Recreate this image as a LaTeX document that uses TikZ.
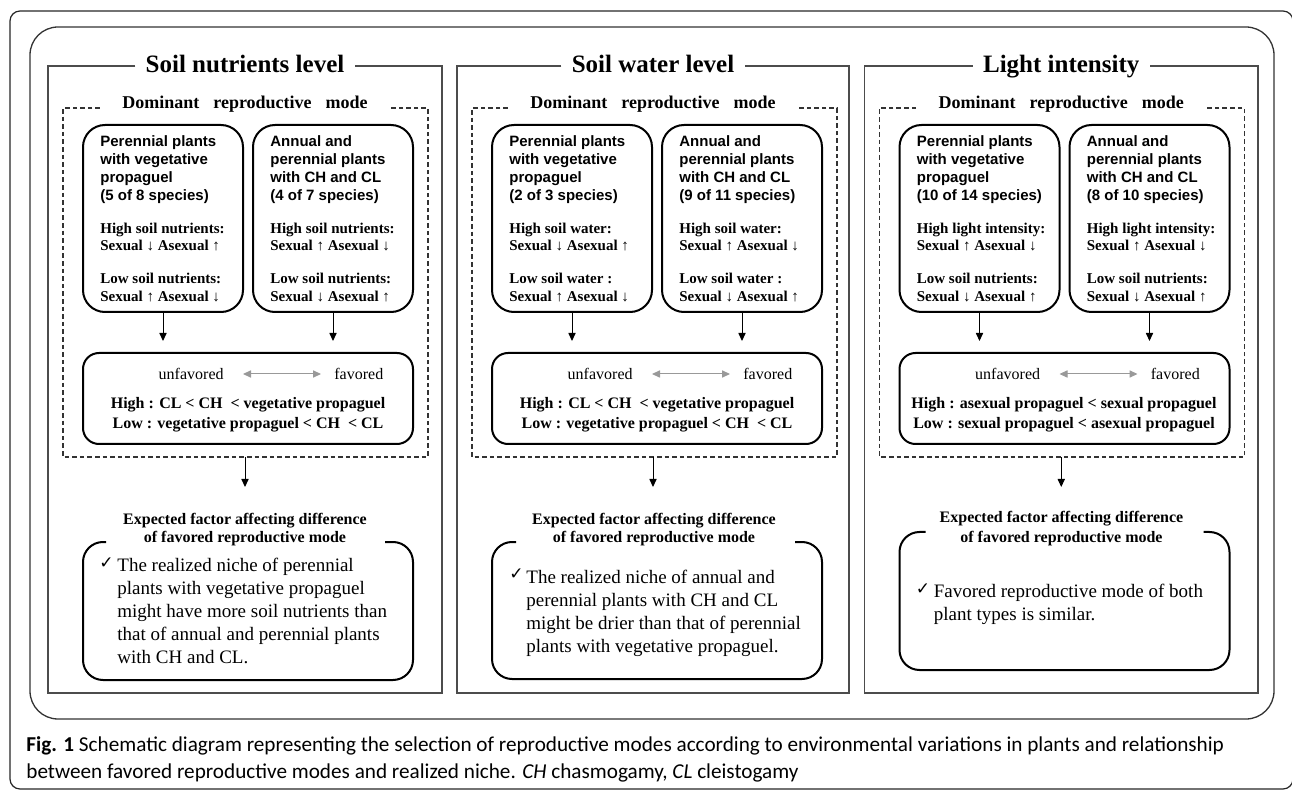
\documentclass[tikz,border=0pt]{standalone}
\usepackage{fontspec}
\setmainfont{Liberation Serif}
\newfontfamily\boxsans{Liberation Sans}
\newfontfamily\capfont{Carlito}
\newfontfamily\symfont{DejaVu Sans}
\usetikzlibrary{arrows.meta,calc}
\tikzset{
 frameline/.style={draw=black!70, line width=0.8pt},
 rb/.style={draw=black, line width=1pt},
 dashline/.style={draw=black!80, line width=0.6pt, dash pattern=on 2.3pt off 1.5pt},
 arr/.style={-{Triangle[length=4pt,width=3.6pt]}, line width=0.5pt, draw=black},
 garr/.style={{Triangle[length=4pt,width=3.6pt]}-{Triangle[length=4pt,width=3.6pt]}, line width=0.5pt, draw=black!40, fill=black!40},
 ttl/.style={font=\bfseries\fontsize{12.5pt}{14pt}\selectfont, inner xsep=5pt, inner ysep=0pt, anchor=base},
 dtl/.style={font=\bfseries\fontsize{9pt}{11pt}\selectfont, inner xsep=11pt, inner ysep=0pt, anchor=base},
 sline/.style={font=\boxsans\bfseries\fontsize{7.5pt}{9pt}\selectfont, inner sep=0pt, anchor=base west},
 bline/.style={font=\bfseries\fontsize{7.5pt}{9pt}\selectfont, inner sep=0pt, anchor=base west},
 mline/.style={font=\bfseries\fontsize{8pt}{10pt}\selectfont, inner sep=0pt, anchor=base},
 ufline/.style={font=\fontsize{8pt}{10pt}\selectfont, inner sep=0pt},
 eline/.style={font=\bfseries\fontsize{8pt}{10pt}\selectfont, inner sep=0pt, anchor=base},
 cline/.style={font=\fontsize{9.5pt}{11pt}\selectfont, inner sep=0pt, anchor=base west},
 chk/.style={font=\symfont\fontsize{8.5pt}{10pt}\selectfont, inner sep=0pt, anchor=base west},
 capline/.style={font=\capfont\fontsize{10.6pt}{12pt}\selectfont, inner sep=0pt, anchor=base west},
}
\newcommand\txtlines[6]{\foreach \mytext [count=\myi] in {#6}{\node[#5] (#1\myi) at (#2,{#3+(\myi-1)*#4}) {\mytext};}}
% common frame of a panel: #1 prefix, #2 width, #3 title
\newcommand\panelframe[3]{%
 \node[ttl] (#1t) at ({#2/2},73) {#3};
 \draw[frameline] (#1t.west |- 0,66) -- (0,66) -- (0,693) -- (#2,693) -- (#2,66) -- (#1t.east |- 0,66);
 \node[dtl] (#1d) at ({#2/2},109) {Dominant\hspace{7pt}reproductive\hspace{7pt}mode};
 \draw[dashline] (#1d.west |- 0,108) -- (15,108) -- (15,457) -- (380,457) -- (380,108) -- (#1d.east |- 0,108);
 \node[rb, rounded corners=11pt, minimum width=80pt, minimum height=93.5pt, inner sep=0pt] (#1a) at (115,218.5) {};
 \node[rb, rounded corners=11pt, minimum width=80pt, minimum height=93.5pt, inner sep=0pt] (#1b) at (285,218.5) {};
 \node[rb, rounded corners=8pt, minimum width=165pt, minimum height=45.5pt, inner sep=0pt] (#1m) at (200,398.5) {};
 \draw[arr, shorten >=5.5pt] (#1a.south) -- (#1a.south |- #1m.north);
 \draw[arr, shorten >=5.5pt] (#1b.south) -- (#1b.south |- #1m.north);
 \node[ufline, anchor=base east] (#1uf) at (176,380) {unfavored};
 \node[ufline, anchor=base west] (#1fv) at (286,380) {favored};
 \draw[garr] ($(#1uf.base east)+(19,-6)$) -- ($(#1fv.base west)+(-13,-6)$);
 \coordinate (#1db) at ({#2/2},457);
 \coordinate (#1de) at ({#2/2},487);
 \draw[arr] (#1db) -- (#1de);
}
\begin{document}
\begin{tikzpicture}[x=0.5pt,y=-0.5pt]
\useasboundingbox (0,0) rectangle (1292,791);
% outer frames
\draw[line width=0.6pt, draw=black!85, rounded corners=5pt] (10,11) rectangle (1293,789);
\draw[line width=0.65pt, draw=black!80, rounded corners=14pt] (30,27) rectangle (1274,719);

% ---------------- Panel 1 ----------------
\begin{scope}[xshift=24pt]
\panelframe{pa}{394}{Soil nutrients level}
\txtlines{paas}{52}{147}{18}{sline}{Perennial plants, with vegetative, propaguel, (5 of 8 species)}
\txtlines{pabs}{222}{147}{18}{sline}{Annual and, perennial plants, with CH and CL, (4 of 7 species)}
\txtlines{paah}{52}{234}{17}{bline}{High soil nutrients:, Sexual ↓ Asexual ↑}
\txtlines{paal}{52}{283.5}{18}{bline}{Low soil nutrients:, Sexual ↑ Asexual ↓}
\txtlines{pabh}{222}{234}{17}{bline}{High soil nutrients:, Sexual ↑ Asexual ↓}
\txtlines{pabl}{222}{283.5}{18}{bline}{Low soil nutrients:, Sexual ↓ Asexual ↑}
\txtlines{pam}{200}{409}{20}{mline}{High : CL < CH \ < vegetative propaguel, Low : vegetative propaguel < CH \ < CL}
\txtlines{pae}{197}{524}{19}{eline}{Expected factor affecting difference, of favored reproductive mode}
\draw[rb, rounded corners=10pt] (58,542) -- (35,542) -- (35,680) -- (365,680) -- (365,542) -- (337,542);
\node[chk] (pack) at (51,568) {✓};
\txtlines{pac}{69}{572}{22.75}{cline}{The realized niche of perennial, plants with vegetative propaguel, might have more soil nutrients than, that of annual and perennial plants, with CH and CL.}
\end{scope}

% ---------------- Panel 2 ----------------
\begin{scope}[xshift=228.5pt]
\panelframe{pb}{392}{Soil water level}
\txtlines{pbas}{52}{147}{18}{sline}{Perennial plants, with vegetative, propaguel, (2 of 3 species)}
\txtlines{pbbs}{222}{147}{18}{sline}{Annual and, perennial plants, with CH and CL, (9 of 11 species)}
\txtlines{pbah}{52}{234}{17}{bline}{High soil water:, Sexual ↓ Asexual ↑}
\txtlines{pbal}{52}{283.5}{18}{bline}{Low soil water :, Sexual ↑ Asexual ↓}
\txtlines{pbbh}{222}{234}{17}{bline}{High soil water:, Sexual ↑ Asexual ↓}
\txtlines{pbbl}{222}{283.5}{18}{bline}{Low soil water :, Sexual ↓ Asexual ↑}
\txtlines{pbm}{200}{409}{20}{mline}{High : CL < CH \ < vegetative propaguel, Low : vegetative propaguel < CH \ < CL}
\txtlines{pbe}{197}{524}{19}{eline}{Expected factor affecting difference, of favored reproductive mode}
\draw[rb, rounded corners=10pt] (59,542) -- (35,542) -- (35,679) -- (365,679) -- (365,542) -- (338,542);
\node[chk] (pbck) at (52,579) {✓};
\txtlines{pbc}{69}{583}{23}{cline}{The realized niche of annual and, perennial plants with CH and CL, might be drier than that of perennial, plants with vegetative propaguel.}
\end{scope}

% ---------------- Panel 3 ----------------
\begin{scope}[xshift=432.25pt]
\panelframe{pc}{393.5}{Light intensity}
\txtlines{pcas}{52}{147}{18}{sline}{Perennial plants, with vegetative, propaguel, (10 of 14 species)}
\txtlines{pcbs}{222}{147}{18}{sline}{Annual and, perennial plants, with CH and CL, (8 of 10 species)}
\txtlines{pcah}{52}{234}{17}{bline}{High light intensity:, Sexual ↑ Asexual ↓}
\txtlines{pcal}{52}{283.5}{18}{bline}{Low soil nutrients:, Sexual ↓ Asexual ↑}
\txtlines{pcbh}{222}{234}{17}{bline}{High light intensity:, Sexual ↑ Asexual ↓}
\txtlines{pcbl}{222}{283.5}{18}{bline}{Low soil nutrients:, Sexual ↓ Asexual ↑}
\txtlines{pcm}{199.5}{409}{20}{mline}{High : asexual propaguel < sexual propaguel, Low : sexual propaguel < asexual propaguel}
\txtlines{pce}{197}{523}{19}{eline}{Expected factor affecting difference, of favored reproductive mode}
\draw[rb, rounded corners=10pt] (61,532) -- (35,532) -- (35,670) -- (365,670) -- (365,532) -- (339,532);
\node[chk] (pcck) at (51,594) {✓};
\txtlines{pcc}{69}{597}{23}{cline}{Favored reproductive mode of both, plant types is similar.}
\end{scope}

% ---------------- Caption ----------------
\node[capline] (cap1) at (26,751) {\textbf{Fig. 1} Schematic diagram representing the selection of reproductive modes according to environmental variations in plants and relationship};
\node[capline] (cap2) at (26,778) {between favored reproductive modes and realized niche. \textit{CH} chasmogamy, \textit{CL} cleistogamy};
\end{tikzpicture}
\end{document}
